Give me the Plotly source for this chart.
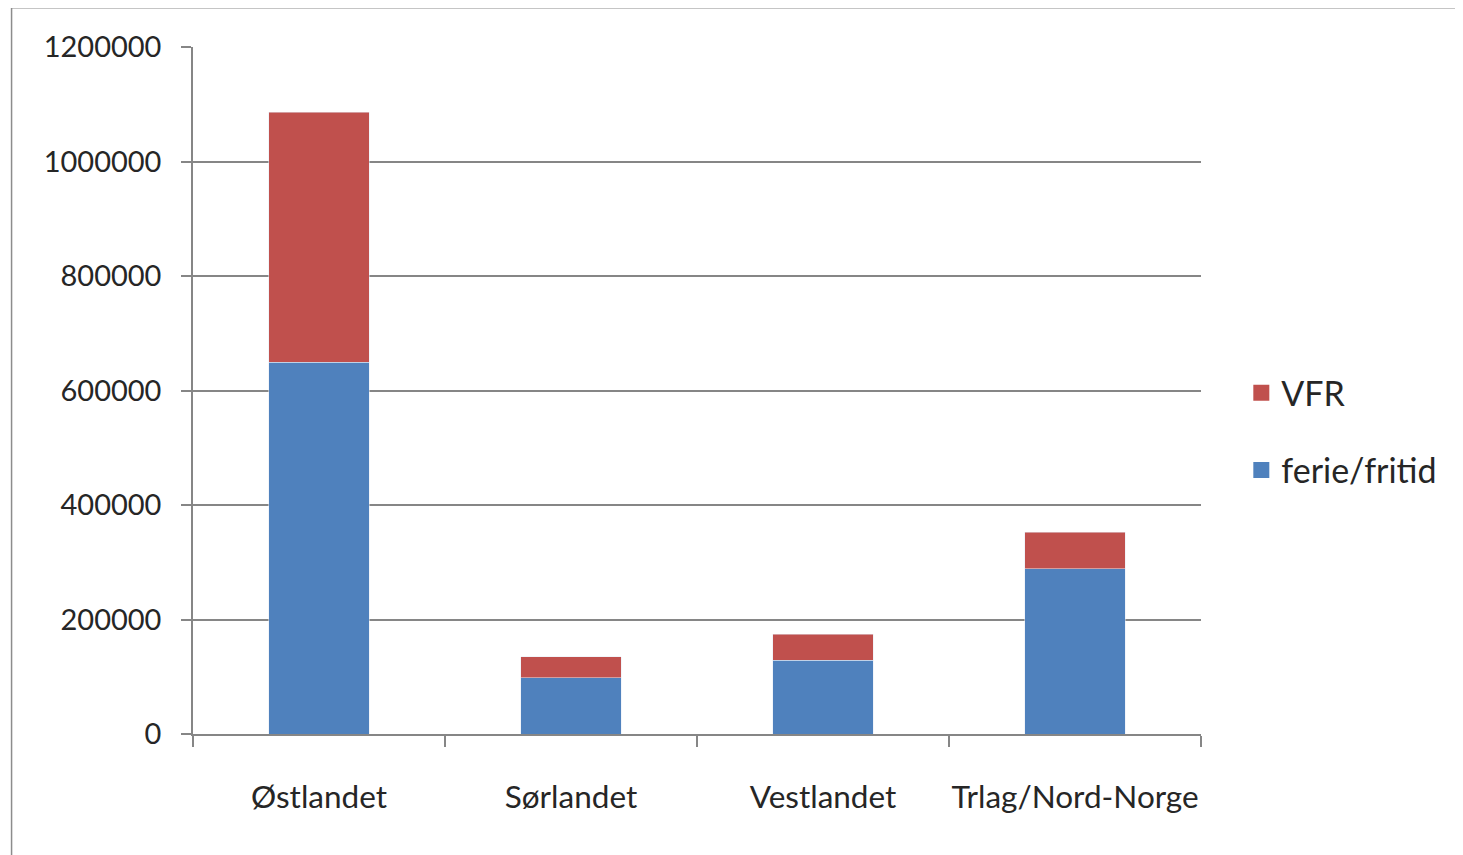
import plotly.graph_objects as go

regions = ["Østlandet", "Sørlandet", "Vestlandet", "Trlag/Nord-Norge"]
ferie_fritid = [649000, 98000, 129000, 289000]
vfr = [437000, 37000, 45000, 63000]

blue = "#4F81BD"
red = "#C0504D"
grid = "#868686"
txt = "#262626"
fnt = "Lato, 'Open Sans', sans-serif"

fig = go.Figure()

# stacked bars
fig.add_trace(go.Bar(x=regions, y=ferie_fritid, name="ferie/fritid",
                     marker={"color": blue}, width=0.4, showlegend=False))
fig.add_trace(go.Bar(x=regions, y=vfr, name="VFR",
                     marker={"color": red}, width=0.4, showlegend=False))

# legend entries with bigger square markers
fig.add_trace(go.Scatter(x=[None], y=[None], mode="markers", name="VFR",
                         marker={"color": red, "symbol": "square", "size": 22},
                         legendgroup="a"))
fig.add_trace(go.Scatter(x=[None], y=[None], mode="markers", name="ferie/fritid",
                         marker={"color": blue, "symbol": "square", "size": 22},
                         legendgroup="b"))

fig.update_layout(
    barmode="stack",
    width=1463, height=855,
    margin={"l": 185, "r": 270, "t": 39, "b": 129, "autoexpand": False},
    paper_bgcolor="white", plot_bgcolor="white",
    font={"family": fnt, "size": 29, "color": txt},
    xaxis={
        "showline": True, "linecolor": grid, "linewidth": 1.5,
        "ticks": "outside", "tickson": "boundaries", "ticklen": 11,
        "tickcolor": grid, "tickwidth": 1.5, "tickangle": 0,
        "ticklabelstandoff": 34, "showgrid": False, "automargin": False,
        "tickfont": {"size": 31.5},
    },
    yaxis={
        "range": [0, 1200000], "dtick": 200000, "tickformat": "d",
        "showline": True, "linecolor": grid, "linewidth": 1.5,
        "ticks": "outside", "ticklen": 10, "tickcolor": grid, "tickwidth": 1.5,
        "ticklabelstandoff": 14, "automargin": False,
        "showgrid": True, "gridcolor": grid, "gridwidth": 1.5,
        "zeroline": False,
    },
    legend={"x": 1.04, "y": 0.44, "xanchor": "left", "yanchor": "middle",
            "traceorder": "grouped", "tracegroupgap": 30,
            "font": {"size": 34}},
    shapes=[{"type": "rect", "xref": "paper", "yref": "paper",
             "x0": -0.18, "x1": 1.27, "y0": -0.19, "y1": 1.057,
             "line": {"color": "#8c8c8c", "width": 1.5}}],
)

fig.write_html("out.html")
